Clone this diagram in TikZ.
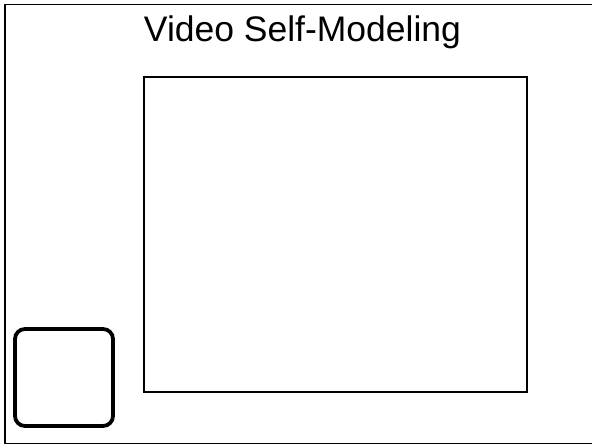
\documentclass[tikz,border=0pt]{standalone}
\usepackage{fontspec}
\setmainfont{Liberation Sans}
\begin{document}
\begin{tikzpicture}[x=1bp,y=-1bp,
  frame/.style={draw=black,line width=1.8bp},
  screen/.style={draw=black,line width=1.1bp},
  thumb/.style={draw=black,line width=3.8bp,rounded corners=10bp},
  title/.style={font=\fontsize{35.5bp}{40bp}\selectfont,anchor=base,inner sep=0pt}]
\useasboundingbox (0,0) rectangle (592,445);
\fill[white] (0,0) rectangle (592,445);
\draw[frame] (5,4.5) rectangle (595,443.5);
\node[title] (t) at (302.5,42) {Video Self-Modeling};
\node[screen,minimum width=383bp,minimum height=315bp,inner sep=0pt] (s) at (335.5,234.5) {};
\node[thumb,minimum width=98bp,minimum height=97bp,inner sep=0pt] (b) at (64,377.5) {};
\end{tikzpicture}
\end{document}
